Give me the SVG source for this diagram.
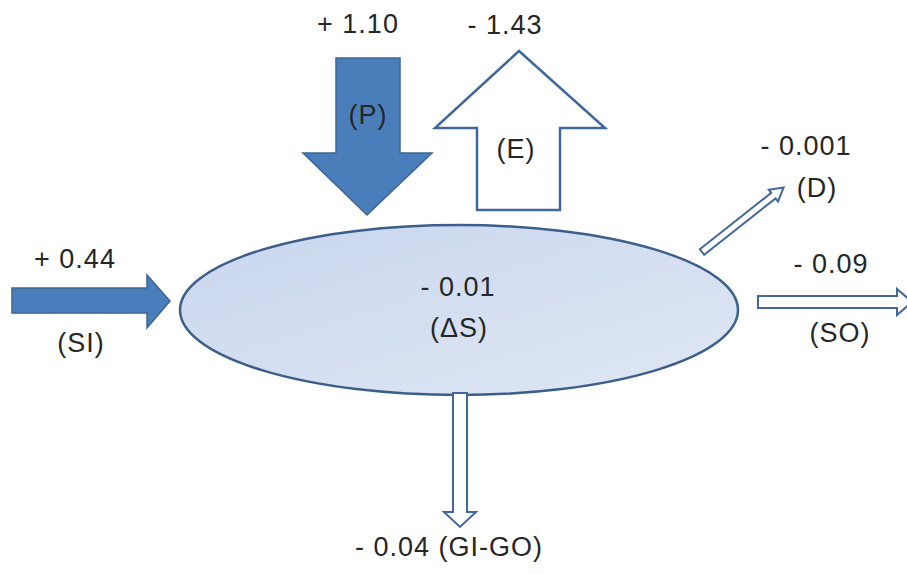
<svg xmlns="http://www.w3.org/2000/svg" width="907" height="574" viewBox="0 0 907 574">
<defs>
<linearGradient id="eg" x1="0" y1="0" x2="1" y2="1">
<stop offset="0" stop-color="#c9d6ee"/>
<stop offset="1" stop-color="#dfe7f4"/>
</linearGradient>
</defs>
<style>
text{font-family:"Liberation Sans",Arial,sans-serif;font-size:27px;letter-spacing:1px;fill:#262626;text-anchor:middle}
.filled{fill:#4a7ebb;stroke:#3b6593;stroke-width:1.5;stroke-linejoin:miter}
.hollow{fill:#ffffff;stroke:#41689a;stroke-width:2.5;stroke-linejoin:miter}
.thin{fill:#ffffff;stroke:#41689a;stroke-width:2;stroke-linejoin:miter}
</style>
<rect width="907" height="574" fill="#ffffff"/>
<g id="storage">
<ellipse cx="459" cy="310" rx="279" ry="85" fill="url(#eg)" stroke="#3b5f8a" stroke-width="2.5"/>
<text x="458" y="296">- 0.01</text>
<text x="459" y="337">(ΔS)</text>
</g>
<g id="connectors">
<g id="P">
<polygon class="filled" points="336,58 400,58 400,153 432,153 367,215 303,153 336,153"/>
<text x="358" y="33">+ 1.10</text>
<text x="368" y="124">(P)</text>
</g>
<g id="E">
<polygon class="hollow" points="519,51 605,128 560,128 560,210 477,210 477,128 435,128"/>
<text x="505" y="34">- 1.43</text>
<text x="516" y="158">(E)</text>
</g>
<g id="D">
<polygon class="thin" transform="translate(702,252) rotate(-38.3)" points="0,-3.5 91,-3.5 91,-7.5 104,0 91,7.5 91,3.5 0,3.5"/>
<text x="806" y="155">- 0.001</text>
<text x="817" y="197">(D)</text>
</g>
<g id="SO">
<polygon class="thin" points="758,296 897,296 897,289 912,302 897,315 897,308 758,308"/>
<text x="831" y="273">- 0.09</text>
<text x="840" y="342">(SO)</text>
</g>
<g id="SI">
<polygon class="filled" points="12,288 147,288 147,275 170,301 147,328 147,313 12,313"/>
<text x="75" y="268">+ 0.44</text>
<text x="81" y="352">(SI)</text>
</g>
<g id="GIGO">
<polygon class="thin" points="453,393 467,393 467,512 476,512 460,527 444,512 453,512"/>
<text x="449" y="556">- 0.04 (GI-GO)</text>
</g>
</g>
</svg>
